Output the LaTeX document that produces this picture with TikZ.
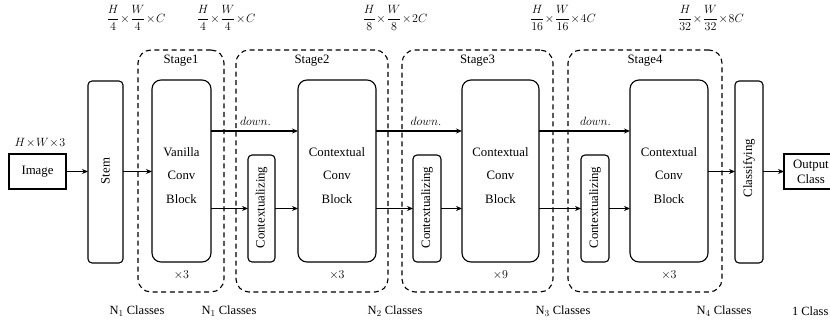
\documentclass[tikz,border=0pt]{standalone}
\usepackage{amsmath}
\usepackage{fontspec}
\setmainfont{Liberation Serif}
\usetikzlibrary{arrows.meta}
\begin{document}
\begin{tikzpicture}[x=1pt,y=-1pt,
  every node/.style={inner sep=0pt, outer sep=0pt, font=\fontsize{12.8}{15}\selectfont},
  blk/.style={draw, line width=1.1pt, rounded corners=9pt},
  slim/.style={draw, line width=1.1pt, rounded corners=4pt},
  sq/.style={draw, line width=1.1pt},
  stg/.style={draw, line width=1.1pt, dash pattern=on 5pt off 3.6pt, rounded corners=13pt},
  arr/.style={line width=1.1pt, -{Stealth[length=6pt,width=5pt]}},
  dimlab/.style={font=\fontsize{12.2}{14}\selectfont},
  cls/.style={font=\fontsize{12.5}{14}\selectfont},
  inner3/.style={align=center, font=\fontsize{12.8}{23.5}\selectfont},
  dn/.style={font=\fontsize{12.5}{14}\selectfont},
]
\clip (0,0) rectangle (830,320);

% stage frames
\node[stg, minimum width=86pt, minimum height=242pt] (s1) at (181,171) {};
\node[stg, minimum width=152pt, minimum height=242pt] (s2) at (312,171) {};
\node[stg, minimum width=151pt, minimum height=242pt] (s3) at (477.5,171) {};
\node[stg, minimum width=154pt, minimum height=242pt] (s4) at (645,171) {};
\node (s1t) at (181,61) {Stage1};
\node (s2t) at (312,61) {Stage2};
\node (s3t) at (477.5,61) {Stage3};
\node (s4t) at (645,61) {Stage4};

% blocks
\node[sq, minimum width=57pt, minimum height=35pt] (img) at (37.5,171.5) {Image};
\node[dimlab] (imgd) at (40,143) {$H\!\times\! W\!\times\! 3$};
\node[slim, minimum width=35pt, minimum height=182pt] (stem) at (105.5,172) {};
\node[rotate=90] at (105.5,171) {Stem};

\node[blk, minimum width=59pt, minimum height=182pt] (van) at (181.5,171) {};
\node[inner3] at (181.5,175.5) {Vanilla\\Conv\\Block};

\node[slim, minimum width=27pt, minimum height=107pt] (c1) at (261.5,208.5) {};
\node[rotate=90] at (261.5,207.5) {Contextualizing};
\node[blk, minimum width=78pt, minimum height=182pt] (b2) at (337,171) {};
\node[inner3] at (337,175.5) {Contextual\\Conv\\Block};

\node[slim, minimum width=28pt, minimum height=107pt] (c2) at (427,208.5) {};
\node[rotate=90] at (427,207.5) {Contextualizing};
\node[blk, minimum width=77pt, minimum height=182pt] (b3) at (500.5,171) {};
\node[inner3] at (500.5,175.5) {Contextual\\Conv\\Block};

\node[slim, minimum width=28pt, minimum height=107pt] (c3) at (595,208.5) {};
\node[rotate=90] at (595,207.5) {Contextualizing};
\node[blk, minimum width=78pt, minimum height=182pt] (b4) at (669,171) {};
\node[inner3] at (669,175.5) {Contextual\\Conv\\Block};

\node[slim, minimum width=28pt, minimum height=182pt] (clf) at (749,172) {};
\node[rotate=90] at (749,168) {Classifying};

\node[sq, minimum width=54pt, minimum height=35pt, align=center, font=\fontsize{12.8}{15}\selectfont] (out) at (811,171.5) {Output\\Class};

% repeat counts
\node (r1) at (181.5,275) {$\times3$};
\node (r2) at (337,275) {$\times3$};
\node (r3) at (500.5,275) {$\times9$};
\node (r4) at (669,275) {$\times3$};

% top dims
\node[dimlab] at (136,18) {$\dfrac{H}{4}\!\times\!\dfrac{W}{4}\!\times\! C$};
\node[dimlab] at (226,18) {$\dfrac{H}{4}\!\times\!\dfrac{W}{4}\!\times\! C$};
\node[dimlab] at (395,18) {$\dfrac{H}{8}\!\times\!\dfrac{W}{8}\!\times\! 2C$};
\node[dimlab] at (563,18) {$\dfrac{H}{16}\!\times\!\dfrac{W}{16}\!\times\! 4C$};
\node[dimlab] at (711,18) {$\dfrac{H}{32}\!\times\!\dfrac{W}{32}\!\times\! 8C$};

% bottom classes
\node[cls] at (137,311) {N$_1$ Classes};
\node[cls] at (229,311) {N$_1$ Classes};
\node[cls] at (395,311) {N$_2$ Classes};
\node[cls] at (563,311) {N$_3$ Classes};
\node[cls] at (724,311) {N$_4$ Classes};
\node[cls, anchor=west] at (792,311) {1 Class};

% connectors
\coordinate (up) at (0,131);
\draw[arr] (img.east) -- (img.east -| stem.west);
\draw[arr] (stem.east |- img.east) -- (van.west |- img.east);
\draw[arr] (van.east |- up) -- node[dn, above=5pt, xshift=1pt] {$down.$} (b2.west |- up);
\draw[arr] (van.east |- c1.west) -- (c1.west);
\draw[arr] (c1.east) -- (b2.west |- c1.east);
\draw[arr] (b2.east |- up) -- node[dn, above=5pt, xshift=7pt] {$down.$} (b3.west |- up);
\draw[arr] (b2.east |- c2.west) -- (c2.west);
\draw[arr] (c2.east) -- (b3.west |- c2.east);
\draw[arr] (b3.east |- up) -- node[dn, above=5pt, xshift=11pt] {$down.$} (b4.west |- up);
\draw[arr] (b3.east |- c3.west) -- (c3.west);
\draw[arr] (c3.east) -- (b4.west |- c3.east);
\draw[arr] (b4.east |- img.east) -- (clf.west |- img.east);
\draw[arr] (clf.east |- img.east) -- (out.west);
\end{tikzpicture}
\end{document}
